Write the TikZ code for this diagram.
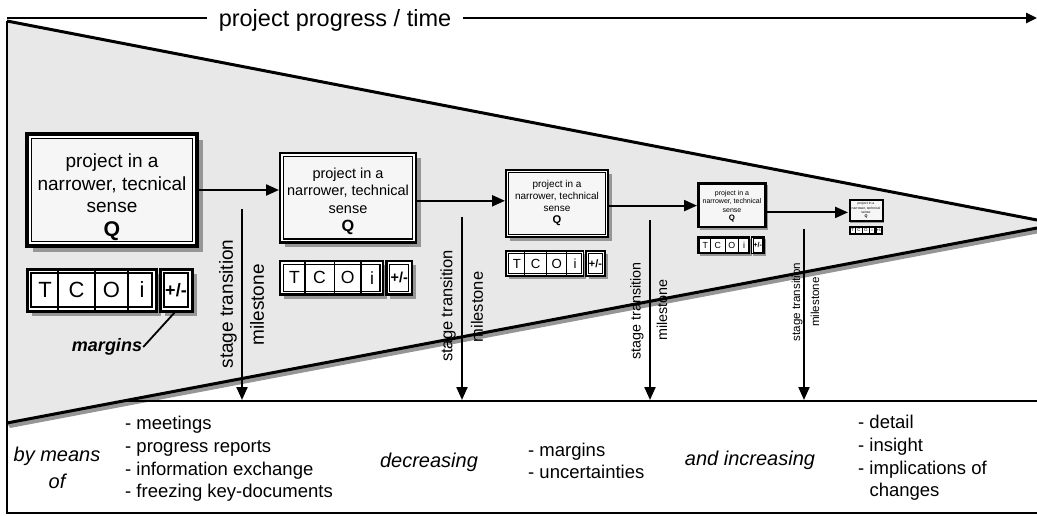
\documentclass[tikz,border=0pt]{standalone}
\usepackage{fontspec}
\setmainfont{Liberation Sans}
\usetikzlibrary{arrows.meta,calc}

\definecolor{funnelfill}{RGB}{232,232,232}
\definecolor{boxfill}{RGB}{246,246,246}
\definecolor{shadowgray}{RGB}{150,150,150}

\newcommand\setfs[2]{\fontsize{#1}{#2}\selectfont}

\tikzset{
  framebox/.style={draw, fill=white, anchor=north west, inner sep=0pt, outer sep=0pt},
  frameline/.style={line width=2.5pt},
  edgeline/.style={line width=3pt},
  arr/.style={line width=2.2pt, -{Triangle[length=13pt,width=11pt]}},
  txt/.style={inner sep=0pt},
}

% One project stage: main box with Q, the T-C-O-i box and the +/- box.
% #1 name, #2 x, #3 y, #4 scale, #5 font size of the box text, #6 second text line
\newcommand\stagegroup[6]{%
  \pgfmathsetmacro\sc{#4}%
  \pgfmathsetmacro\fs{#5}%
  \pgfmathsetmacro\fsb{1.2*#5}%
  \pgfmathsetmacro\fq{1.12*#5}%
  \pgfmathsetmacro\fl{22*#4}%
  \pgfmathsetmacro\fp{18*#4}%
  \begin{scope}[shift={(#2,#3)}]
    % drop shadows
    \fill[shadowgray] (6*\sc,6*\sc) rectangle (176*\sc,118*\sc);
    \fill[shadowgray] (5*\sc,140*\sc) rectangle (134*\sc,182*\sc);
    \fill[shadowgray] (138*\sc,140*\sc) rectangle (170*\sc,182*\sc);
    % main box with double border
    \node[framebox, line width=3.5pt*\sc, minimum width=170pt*\sc, minimum height=112pt*\sc] (#1) at (0,0) {};
    \draw[line width=1.8pt*\sc, fill=boxfill] (4.5*\sc,4.5*\sc) rectangle (165.5*\sc,107.5*\sc);
    \node[txt, font=\setfs{\fs}{\fsb}, align=center] (#1-text) at (85*\sc,2.6*\fs) {project in a\\#6\\sense};
    \node[txt, font=\bfseries\setfs{\fq}{\fq}] (#1-q) at (85*\sc,5.1*\fs) {Q};
    % T C O i box
    \node[framebox, line width=3pt*\sc, minimum width=129pt*\sc, minimum height=42pt*\sc] (#1-tcoi) at (0,135*\sc) {};
    \draw[line width=1.5pt*\sc] (4*\sc,139*\sc) rectangle (125*\sc,173*\sc);
    \foreach \d in {31,68,101}
      \draw[line width=2pt*\sc] (\d*\sc,135*\sc) -- (\d*\sc,177*\sc);
    \foreach \l/\p in {T/18,C/49.5,O/84.5,i/115}
      \node[txt, font=\setfs{\fl}{\fl}] (#1-\l) at (\p*\sc,156*\sc) {\l};
    % +/- box
    \node[framebox, line width=3pt*\sc, minimum width=32pt*\sc, minimum height=42pt*\sc] (#1-pm) at (133*\sc,135*\sc) {};
    \draw[line width=1.5pt*\sc] (137*\sc,139*\sc) rectangle (161*\sc,173*\sc);
    \node[txt, font=\bfseries\setfs{\fp}{\fp}] (#1-pmtext) at (149*\sc,156*\sc) {+/-};
  \end{scope}%
}

\begin{document}
\begin{tikzpicture}[x=1pt,y=-1pt]
\useasboundingbox (0,0) rectangle (1037,516);

% funnel of the project stages
\coordinate (ftl) at (7,21);
\coordinate (ftr) at (1037,220);
\coordinate (fbr) at (1037,228);
\coordinate (fbl) at (7,423);
\fill[shadowgray] ([shift={(3,5)}]fbl) -- ([shift={(3,5)}]fbr) -- (fbr) -- (fbl) -- cycle;
\fill[funnelfill] (ftl) -- (ftr) -- (fbr) -- (fbl) -- cycle;
\draw[edgeline] (ftl) -- (ftr);
\draw[edgeline] (fbl) -- (fbr);

% outer frame and the band below
\coordinate (fbot) at (7,513);
\coordinate (rbot) at (1037,513);
\coordinate (bandl) at (123,401);
\coordinate (bandr) at (1037,401);
\draw[frameline] (ftl) -- (fbot) -- (rbot);
\draw[frameline] (bandl) -- (bandr);

% time axis
\node[font=\setfs{23.5}{28}, inner xsep=12pt, inner ysep=0pt] (title) at (335,20) {project progress / time};
\coordinate (tstart) at (7,18);
\coordinate (tend) at (1037,18);
\draw[frameline] (tstart) -- (tstart -| title.west);
\draw[frameline, -{Triangle[length=11pt,width=10pt]}] (tstart -| title.east) -- (tend);

% stages
\stagegroup{b1}{27}{134}{1}{19}{narrower, tecnical}
\stagegroup{b2}{280}{153}{0.8}{14.5}{narrower, technical}
\stagegroup{b3}{506}{170}{0.6}{10}{narrower, technical}
\stagegroup{b4}{698}{183}{0.4}{7}{narrower, technical}
\stagegroup{b5}{849}{199}{0.2}{3.4}{narrower, technical}

\draw[arr, shorten >=1pt] (b1.east) -- (b1.east -| b2.west);
\draw[arr, shorten >=1pt] ([yshift=-3pt]b2.east) -- ([yshift=-3pt]b2.east -| b3.west);
\draw[arr, shorten >=1pt] ([yshift=-2pt]b3.east) -- ([yshift=-2pt]b3.east -| b4.west);
\draw[arr, shorten >=1pt] ([yshift=-7pt]b4.east) -- ([yshift=-7pt]b4.east -| b5.west);

% margins label
\node[txt, font=\bfseries\itshape\setfs{18}{21}] (margins) at (107,347) {margins};
\draw[line width=1.8pt] ([xshift=1pt]margins.east) -- (b1-pm.south);

% milestones
\coordinate (m1t) at (242,209); \coordinate (m1b) at (242,400);
\coordinate (m2t) at (462,217); \coordinate (m2b) at (462,400);
\coordinate (m3t) at (650,220); \coordinate (m3b) at (650,400);
\coordinate (m4t) at (804,229); \coordinate (m4b) at (804,400);
\draw[arr] (m1t) -- (m1b);
\draw[arr] (m2t) -- (m2b);
\draw[arr] (m3t) -- (m3b);
\draw[arr] (m4t) -- (m4b);

\node[txt, rotate=90, font=\setfs{19}{22}] (s1) at (228,304) {stage transition};
\node[txt, rotate=90, font=\setfs{19}{22}] (l1) at (257,305) {milestone};
\node[txt, rotate=90, font=\setfs{16.5}{19}] (s2) at (448,306) {stage transition};
\node[txt, rotate=90, font=\setfs{16.5}{19}] (l2) at (477,307) {milestone};
\node[txt, rotate=90, font=\setfs{14.3}{17}] (s3) at (637,311) {stage transition};
\node[txt, rotate=90, font=\setfs{14.3}{17}] (l3) at (662,310) {milestone};
\node[txt, rotate=90, font=\setfs{11.6}{14}] (s4) at (797,302) {stage transition};
\node[txt, rotate=90, font=\setfs{11.6}{14}] (l4) at (815,302) {milestone};

% texts in the band
\node[txt, font=\itshape\setfs{20}{27}, align=center] (means) at (57,468) {by means\\of};
\node[txt, font=\setfs{18.5}{22.7}, align=left, anchor=west] (tools) at (125,459)
  {- meetings\\- progress reports\\- information exchange\\- freezing key-documents};
\node[txt, font=\itshape\setfs{20}{24}] (decr) at (429,462) {decreasing};
\node[txt, font=\setfs{18.5}{22.7}, align=left, anchor=west] (less) at (528,461)
  {- margins\\- uncertainties};
\node[txt, font=\itshape\setfs{20}{24}] (incr) at (750,460) {and increasing};
\node[txt, font=\setfs{18.5}{22.7}, align=left, anchor=west] (more) at (858,458)
  {- detail\\- insight\\- implications of\\\phantom{- }changes};
\end{tikzpicture}
\end{document}
